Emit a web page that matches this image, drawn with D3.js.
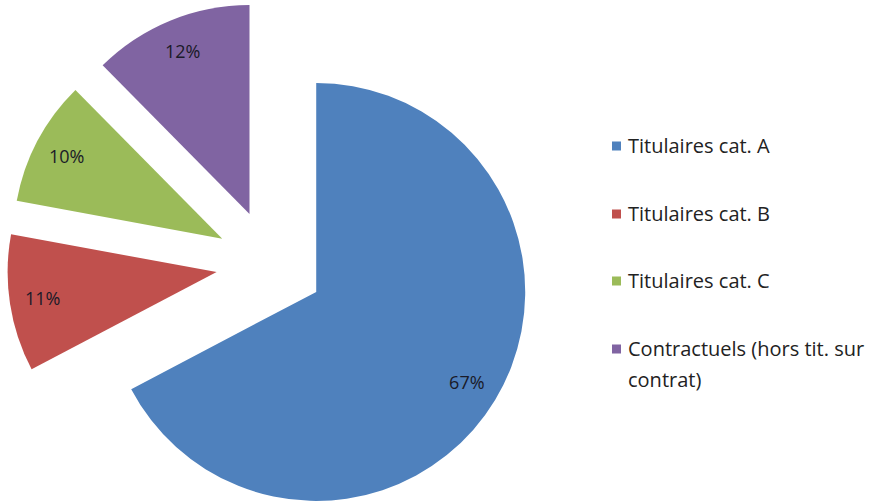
<!DOCTYPE html>
<html>
<head>
<meta charset="utf-8">
<script src="https://cdn.jsdelivr.net/npm/d3@7"></script>
<style>
  body { margin: 0; background: #fff; }
  svg { display: block; }
</style>
</head>
<body>
<div class="pie"></div>
<script>
var svgWidth = 869;
var svgHeight = 501;

// data (shares, shown rounded)
var categories = ["Titulaires cat. A", "Titulaires cat. B", "Titulaires cat. C", "Contractuels (hors tit. sur contrat)"];
var legendLines = [["Titulaires cat. A"], ["Titulaires cat. B"], ["Titulaires cat. C"], ["Contractuels (hors tit. sur", "contrat)"]];
var values = [67.3, 10.6, 9.7, 12.4];
var colors = ["#4f81bd", "#c0504d", "#9bbb59", "#8064a2"];

var center = { x: 270, y: 264 };
var radius = 209;
var explode = 54;
var labelRadius = 176;

var svg = d3.select(".pie")
  .append("svg")
  .attr("width", svgWidth)
  .attr("height", svgHeight);

var pieGroup = svg.append("g")
  .attr("transform", `translate(${center.x}, ${center.y})`);

var pie = d3.pie().sort(null).value(d => d);
var arcs = pie(values);

var arc = d3.arc().innerRadius(0).outerRadius(radius);
var labelArc = d3.arc().innerRadius(labelRadius).outerRadius(labelRadius);

function offset(d) {
  var mid = (d.startAngle + d.endAngle) / 2;
  return [Math.sin(mid) * explode, -Math.cos(mid) * explode];
}

var slices = pieGroup.selectAll(".slice")
  .data(arcs)
  .enter()
  .append("g")
  .attr("class", "slice")
  .attr("transform", d => `translate(${offset(d)[0]}, ${offset(d)[1]})`);

slices.append("path")
  .attr("d", arc)
  .attr("fill", (d, i) => colors[i]);

slices.append("text")
  .attr("transform", d => `translate(${labelArc.centroid(d)})`)
  .attr("text-anchor", "middle")
  .attr("dy", "0.35em")
  .attr("font-family", "'Open Sans', sans-serif")
  .attr("font-size", "18px")
  .attr("fill", "#1a1a28")
  .text(d => Math.round(d.data) + "%");

// legend
var legend = svg.append("g")
  .attr("transform", "translate(612, 0)");

var rowY = [146, 214, 281, 349];

var items = legend.selectAll(".item")
  .data(categories)
  .enter()
  .append("g")
  .attr("class", "item")
  .attr("transform", (d, i) => `translate(0, ${rowY[i]})`);

items.append("rect")
  .attr("x", 0)
  .attr("y", -4.5)
  .attr("width", 9)
  .attr("height", 9)
  .attr("fill", (d, i) => colors[i]);

items.append("text")
  .attr("x", 16)
  .attr("y", 0)
  .attr("font-family", "'Open Sans', sans-serif")
  .attr("font-size", "20px")
  .attr("fill", "#222")
  .selectAll("tspan")
  .data((d, i) => legendLines[i])
  .enter()
  .append("tspan")
  .attr("x", 16)
  .attr("dy", (d, j) => j === 0 ? "0.35em" : "31px")
  .text(d => d);
</script>
</body>
</html>
